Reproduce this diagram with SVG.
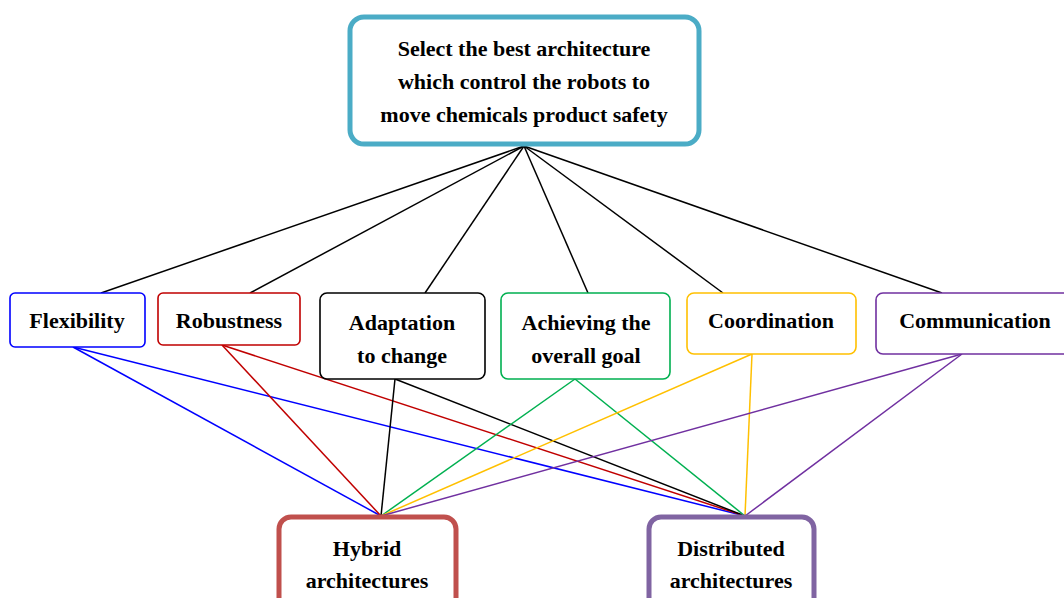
<svg xmlns="http://www.w3.org/2000/svg" width="1064" height="598" viewBox="0 0 1064 598">
<style>
text{font-family:"Liberation Serif","Times New Roman",serif;font-weight:bold;font-size:22px;fill:#000;text-anchor:middle}
.n{fill:#fff;stroke-width:1.6}
.b{fill:#fff;stroke-width:5}
.c line{stroke-width:1.5}
</style>
<rect width="1064" height="598" fill="#fff"/>
<g id="connectors" class="c">
<line x1="524" y1="146" x2="101" y2="293" stroke="#000"/>
<line x1="524" y1="146" x2="250" y2="293" stroke="#000"/>
<line x1="524" y1="146" x2="425" y2="293" stroke="#000"/>
<line x1="524" y1="146" x2="588" y2="293" stroke="#000"/>
<line x1="524" y1="146" x2="723" y2="293" stroke="#000"/>
<line x1="524" y1="146" x2="942" y2="293" stroke="#000"/>
<line x1="73" y1="347" x2="381" y2="516" stroke="#0000FF"/>
<line x1="73" y1="347" x2="745" y2="516" stroke="#0000FF"/>
<line x1="222" y1="345" x2="381" y2="516" stroke="#C00000"/>
<line x1="222" y1="345" x2="745" y2="516" stroke="#C00000"/>
<line x1="395" y1="379" x2="381" y2="516" stroke="#000"/>
<line x1="395" y1="379" x2="745" y2="516" stroke="#000"/>
<line x1="575" y1="379" x2="381" y2="516" stroke="#00B050"/>
<line x1="575" y1="379" x2="745" y2="516" stroke="#00B050"/>
<line x1="752" y1="354" x2="381" y2="516" stroke="#FFC000"/>
<line x1="752" y1="354" x2="745" y2="516" stroke="#FFC000"/>
<line x1="962" y1="354" x2="381" y2="516" stroke="#7030A0"/>
<line x1="962" y1="354" x2="745" y2="516" stroke="#7030A0"/>
</g>
<g id="goal">
<rect class="b" x="350" y="17" width="349" height="127" rx="14" stroke="#4BACC6"/>
<text x="524" y="56">Select the best architecture</text>
<text x="524" y="89">which control the robots to</text>
<text x="524" y="122">move chemicals product safety</text>
</g>
<g id="flexibility">
<rect class="n" x="10" y="293" width="135" height="54" rx="5" stroke="#0000FF"/>
<text x="77" y="328">Flexibility</text>
</g>
<g id="robustness">
<rect class="n" x="158" y="293" width="142" height="52" rx="5" stroke="#C00000"/>
<text x="229" y="328">Robustness</text>
</g>
<g id="adaptation">
<rect class="n" x="320" y="293" width="165" height="86" rx="7" stroke="#000"/>
<text x="402" y="330">Adaptation</text>
<text x="402" y="363">to change</text>
</g>
<g id="achieving">
<rect class="n" x="501" y="293" width="169" height="86" rx="7" stroke="#00B050"/>
<text x="586" y="330">Achieving the</text>
<text x="586" y="363">overall goal</text>
</g>
<g id="coordination">
<rect class="n" x="687" y="293" width="169" height="61" rx="7" stroke="#FFC000"/>
<text x="771" y="328">Coordination</text>
</g>
<g id="communication">
<rect class="n" x="876" y="293" width="200" height="61" rx="7" stroke="#7030A0"/>
<text x="975" y="328">Communication</text>
</g>
<g id="hybrid">
<rect class="b" x="279" y="517" width="177" height="100" rx="12" stroke="#C0504D"/>
<text x="367" y="556">Hybrid</text>
<text x="367" y="588">architectures</text>
</g>
<g id="distributed">
<rect class="b" x="649" y="517" width="165" height="100" rx="12" stroke="#8064A2"/>
<text x="731" y="556">Distributed</text>
<text x="731" y="588">architectures</text>
</g>
</svg>
